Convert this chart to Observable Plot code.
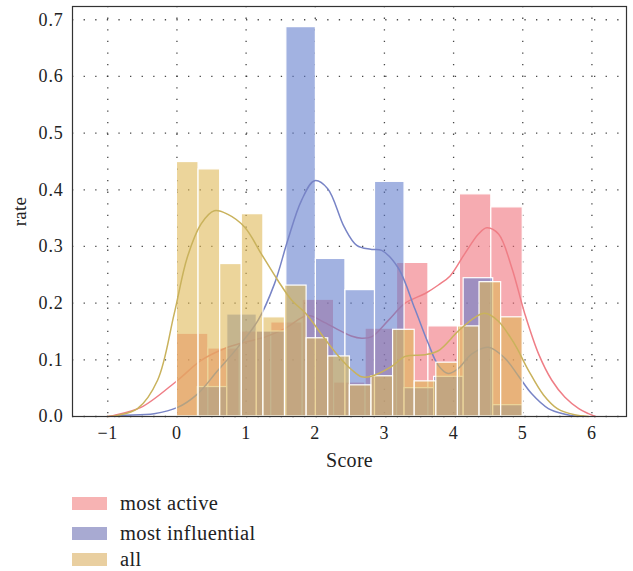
<!DOCTYPE html>
<html>
<head>
<meta charset="utf-8">
<script src="https://cdn.jsdelivr.net/npm/d3@7"></script>
<script src="https://cdn.jsdelivr.net/npm/@observablehq/plot@0.6"></script>
<style>
  html, body { margin: 0; padding: 0; background: #fff; }
  #wrap { position: relative; width: 633px; height: 571px; font-family: "Liberation Serif", "DejaVu Serif", serif; }
  #chart svg text { font-family: "Liberation Serif", "DejaVu Serif", serif; fill: #222; font-size: 18px; letter-spacing: 0.8px; }
  #chart svg g[aria-label="x-axis label"] text { font-size: 20px; letter-spacing: 0.3px; }
  #chart svg g[aria-label="y-axis label"] text { font-size: 19px; letter-spacing: 0.3px; }
  .legend { position: absolute; left: 72px; top: 480px; width: 400px; }
  .row { position: absolute; left: 0; display: flex; align-items: center; height: 26px; }
  .sw { width: 35px; height: 13px; margin-right: 13px; }
  .lab { font-size: 20.5px; color: #222; letter-spacing: 0.4px; font-family: "Liberation Serif", "DejaVu Serif", serif; }
</style>
</head>
<body>
<div id="wrap"><div id="chart"></div><div class="legend" id="legend"></div></div>
<script>
// ---- data ----
const seriesNames = ["most active", "most influential", "all"];
const xTicks = [-1, 0, 1, 2, 3, 4, 5, 6];
const yTicks = [0, 0.1, 0.2, 0.3, 0.4, 0.5, 0.6, 0.7];

// histogram bin ranges (score) and bar heights (rate)
const activeRange = [0, 5];
const activeHeights = [0.146, 0.12, 0.15, 0.166, 0.206, 0.06, 0.155, 0.271, 0.159, 0.392, 0.369];
const influentialRange = [0.3, 5];
const influentialHeights = [0.052, 0.18, 0.15, 0.687, 0.278, 0.223, 0.414, 0.05, 0.07, 0.244, 0.02];
const allRange = [0, 5];
const allHeights = [0.449, 0.436, 0.269, 0.357, 0.175, 0.231, 0.138, 0.106, 0.055, 0.071, 0.153, 0.062, 0.095, 0.159, 0.237, 0.175];

// density curves [score, rate]
const activeKde = [[-1.0,0.0],[-0.91,0.002],[-0.52,0.016],[0.01,0.064],[0.35,0.099],[0.69,0.12],[0.98,0.131],[1.27,0.14],[1.56,0.155],[1.89,0.178],[2.13,0.166],[2.35,0.152],[2.52,0.142],[2.67,0.138],[2.82,0.141],[3.06,0.17],[3.30,0.2],[3.59,0.217],[3.78,0.232],[3.95,0.248],[4.16,0.287],[4.36,0.322],[4.48,0.333],[4.65,0.322],[4.84,0.263],[5.03,0.181],[5.23,0.11],[5.42,0.064],[5.61,0.034],[5.81,0.014],[5.95,0.005],[6.05,0.0]];
const influentialKde = [[-0.9,0.0],[-0.81,0.002],[-0.33,0.005],[0.01,0.016],[0.30,0.04],[0.59,0.081],[0.88,0.122],[1.17,0.169],[1.41,0.234],[1.60,0.31],[1.80,0.381],[1.99,0.416],[2.18,0.402],[2.42,0.334],[2.6,0.302],[2.8,0.295],[2.96,0.293],[3.20,0.262],[3.44,0.19],[3.63,0.13],[3.78,0.09],[3.92,0.076],[4.07,0.085],[4.26,0.11],[4.5,0.122],[4.74,0.103],[4.94,0.071],[5.13,0.04],[5.37,0.014],[5.61,0.004],[5.8,0.0]];
const allKde = [[-1.0,0.0],[-0.86,0.002],[-0.57,0.014],[-0.28,0.064],[-0.04,0.181],[0.15,0.281],[0.35,0.34],[0.54,0.363],[0.73,0.357],[0.98,0.334],[1.22,0.287],[1.46,0.24],[1.66,0.205],[1.86,0.182],[2.15,0.135],[2.34,0.106],[2.53,0.082],[2.67,0.07],[2.81,0.071],[3.10,0.088],[3.30,0.106],[3.59,0.109],[3.78,0.116],[4.07,0.151],[4.31,0.175],[4.45,0.182],[4.64,0.169],[4.88,0.128],[5.08,0.082],[5.3,0.038],[5.5,0.014],[5.75,0.003],[5.95,0.0]];

// ---- style ----
const barColors = ["#ef6f78", "#5f7acb", "#dfb652"];
const lineColors = ["#ef7e86", "#7884c6", "#c9b25c"];
const legendColors = ["#f7b3b3", "#a8aad2", "#e9cfa0"];

function bars(range, heights, name) {
  const n = heights.length, w = (range[1] - range[0]) / n;
  return heights.map((h, i) => ({series: name, x1: range[0] + i * w, x2: range[0] + (i + 1) * w, h}));
}
const barSets = [bars(activeRange, activeHeights, seriesNames[0]), bars(influentialRange, influentialHeights, seriesNames[1]), bars(allRange, allHeights, seriesNames[2])];
const kdeSets = [activeKde, influentialKde, allKde];

const marks = [
  Plot.gridX(xTicks, {stroke: "#333", strokeOpacity: 0.9, strokeWidth: 1.3, strokeDasharray: "1.3,10.3"}),
  Plot.gridY(yTicks, {stroke: "#333", strokeOpacity: 0.9, strokeWidth: 1.3, strokeDasharray: "1.3,10.3"})
];
for (let i = 0; i < 3; i++) {
  marks.push(Plot.rect(barSets[i], {x1: "x1", x2: "x2", y1: 0, y2: "h", fill: barColors[i], fillOpacity: 0.58, stroke: "white", strokeWidth: 1.2}));
  marks.push(Plot.line(kdeSets[i], {x: d => d[0], y: d => d[1], curve: "catmull-rom", stroke: lineColors[i], strokeWidth: 1.5}));
}
marks.push(Plot.frame({stroke: "#333", strokeWidth: 1.2}));
marks.push(Plot.axisX(xTicks, {tickSize: 0, tickPadding: 10, label: "Score", labelAnchor: "center", labelArrow: "none", labelOffset: 50}));
marks.push(Plot.axisY(yTicks, {tickSize: 0, tickPadding: 9, tickFormat: d => d.toFixed(1), label: "rate", labelAnchor: "center", labelArrow: "none", labelOffset: 60}));

const chart = Plot.plot({
  width: 633,
  height: 480,
  marginLeft: 72,
  marginRight: 7,
  marginTop: 6,
  marginBottom: 64,
  style: {fontFamily: "Liberation Serif, serif", fontSize: "18px", color: "#222", background: "white"},
  x: {domain: [-1.51, 6.5]},
  y: {domain: [0, 0.7234]},
  marks
});
document.getElementById("chart").appendChild(chart);

// legend
const rowTops = [17, 46.5, 73];
const legend = document.getElementById("legend");
seriesNames.forEach((name, i) => {
  const row = document.createElement("div");
  row.className = "row";
  row.style.top = (rowTops[i] - 6.5) + "px";
  const sw = document.createElement("div");
  sw.className = "sw";
  sw.style.background = legendColors[i];
  const lab = document.createElement("span");
  lab.className = "lab";
  lab.textContent = name;
  row.appendChild(sw);
  row.appendChild(lab);
  legend.appendChild(row);
});
</script>
</body>
</html>
